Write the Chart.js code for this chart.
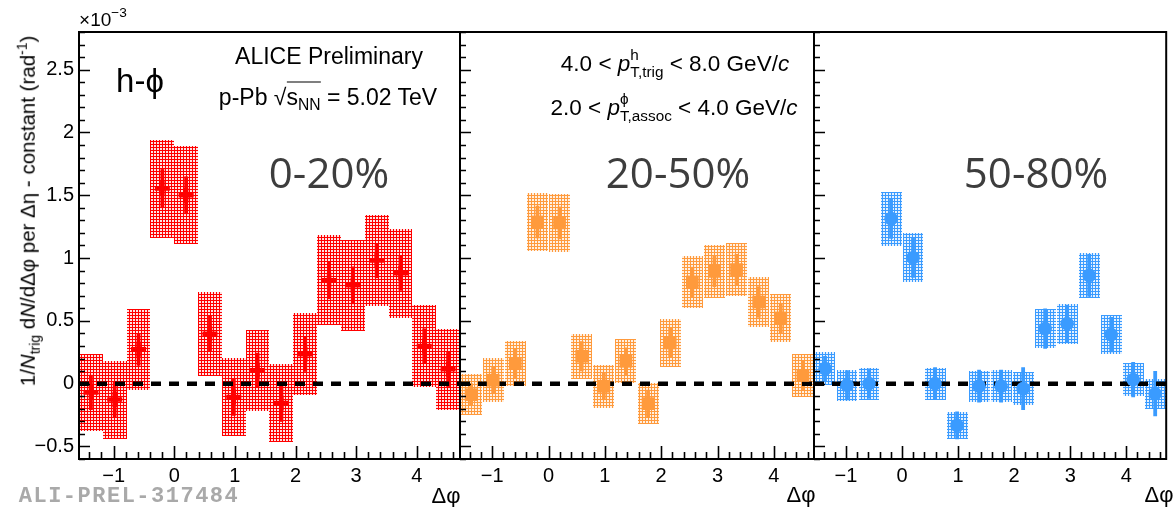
<!DOCTYPE html>
<html>
<head>
<meta charset="utf-8">
<script src="https://cdn.jsdelivr.net/npm/chart.js@4.4.1/dist/chart.umd.min.js"></script>
<style>
  html, body { margin: 0; padding: 0; background: #fff; }
  #wrap { position: relative; width: 1173px; height: 507px; overflow: hidden; font-family: "Liberation Sans", Arial, sans-serif; color: #000; }
  #wrap canvas { position: absolute; left: 0; top: 0; }
  .t { position: absolute; white-space: nowrap; transform: translate(-50%, -50%); line-height: 1; }
  .it { font-style: italic; }
  .stk { display: inline-block; vertical-align: -0.42em; font-size: 0.68em; line-height: 1.08; text-align: left; }
  .stk span { display: block; }
  .cent { font-family: "Open Sans", sans-serif; font-size: 42px; color: #3d3d3d; }
  sub, sup { font-size: 0.68em; line-height: 0; }
</style>
</head>
<body>
<div id="wrap">
  <canvas id="c0" width="1173" height="507"></canvas>
  <canvas id="c1" width="1173" height="507"></canvas>
  <canvas id="c2" width="1173" height="507"></canvas>

  <div class="t" style="left:103px; top:19px; font-size:19px;">×10<sup style="font-size:0.72em;position:relative;top:-0.15em;">−3</sup></div>
  <div class="t" style="left:28px; top:211px; font-size:20.5px; transform: translate(-50%,-50%) rotate(-90deg);">1/<span class="it">N</span><sub>trig</sub> d<span class="it">N</span>/dΔφ per Δη - constant (rad<sup>-1</sup>)</div>
  <div class="t" style="left:140px; top:80px; font-size:33px;">h-ϕ</div>
  <div class="t" style="left:329px; top:56px; font-size:23px;">ALICE Preliminary</div>
  <div class="t" style="left:328px; top:97px; font-size:23px;">p-Pb √<span style="border-top:1.5px solid #000; padding-top:1px;">s<sub>NN</sub></span> = 5.02 TeV</div>
  <div class="t" style="left:675px; top:64px; font-size:22.5px;">4.0 &lt; <span class="it">p</span><span class="stk"><span>h</span><span>T,trig</span></span> &lt; 8.0 GeV/<span class="it">c</span></div>
  <div class="t" style="left:674px; top:108px; font-size:22.5px;">2.0 &lt; <span class="it">p</span><span class="stk"><span>ϕ</span><span>T,assoc</span></span> &lt; 4.0 GeV/<span class="it">c</span></div>
  <div class="t cent" style="left:329px; top:172px;">0-20%</div>
  <div class="t cent" style="left:678px; top:172px;">20-50%</div>
  <div class="t cent" style="left:1036px; top:172px;">50-80%</div>
  <div class="t" style="left:446px; top:496px; font-size:22px;">Δφ</div>
  <div class="t" style="left:801px; top:495px; font-size:22px;">Δφ</div>
  <div class="t" style="left:1159px; top:495px; font-size:22px;">Δφ</div>
  <div class="t" style="left:129px; top:497px; font-size:22px; font-weight:bold; font-family:'Liberation Mono', monospace; color:#a9a9a9; letter-spacing:1.5px;">ALI-PREL-317484</div>
</div>

<script>
// delta-phi bin centres (16 bins from -pi/2 to 3pi/2)
const binCenters = [-1.374, -0.982, -0.589, -0.196, 0.196, 0.589, 0.982, 1.374,
                    1.767, 2.160, 2.553, 2.945, 3.338, 3.731, 4.123, 4.516];
const binWidth = 0.3927;
const xTicks = [-1, 0, 1, 2, 3, 4];
const yTicks = [-0.5, 0, 0.5, 1, 1.5, 2, 2.5];

// 0-20%
const y0020 = [-0.07, -0.127, 0.273, 1.553, 1.50, 0.398, -0.106, 0.106, -0.154, 0.234, 0.823, 0.783, 0.98, 0.88, 0.30, 0.114];
const stat0020 = [0.14, 0.14, 0.13, 0.155, 0.15, 0.145, 0.15, 0.14, 0.15, 0.14, 0.15, 0.15, 0.14, 0.14, 0.14, 0.14];
const sys0020 = [0.31, 0.31, 0.325, 0.39, 0.39, 0.335, 0.31, 0.32, 0.31, 0.325, 0.36, 0.36, 0.365, 0.355, 0.325, 0.32];

// 20-50%
const y2050 = [-0.088, 0.027, 0.16, 1.287, 1.28, 0.218, -0.021, 0.178, -0.159, 0.324, 0.81, 0.894, 0.908, 0.65, 0.523, 0.066];
const stat2050 = [0.09, 0.11, 0.12, 0.13, 0.13, 0.12, 0.11, 0.11, 0.11, 0.12, 0.12, 0.125, 0.125, 0.125, 0.12, 0.12];
const sys2050 = [0.165, 0.175, 0.18, 0.23, 0.23, 0.18, 0.17, 0.175, 0.165, 0.19, 0.21, 0.21, 0.21, 0.2, 0.19, 0.17];

// 50-80%
const y5080 = [0.12, -0.013, 0.0, 1.314, 1.003, 0.0, -0.332, -0.02, -0.02, -0.04, 0.438, 0.478, 0.862, 0.39, 0.032, -0.08];
const stat5080 = [0.10, 0.12, 0.12, 0.16, 0.16, 0.13, 0.11, 0.13, 0.13, 0.17, 0.16, 0.15, 0.17, 0.14, 0.14, 0.18];
const sys5080 = [0.13, 0.125, 0.127, 0.215, 0.195, 0.127, 0.106, 0.124, 0.125, 0.13, 0.155, 0.16, 0.18, 0.153, 0.13, 0.12];

const X_MIN = -Math.PI / 2, X_MAX = 3 * Math.PI / 2;
const Y_MIN = -0.6, Y_MAX = 2.8;

// dotted fill like ROOT's 3001 style: colour with light square holes
function hatch(color, hole) {
  const c = document.createElement('canvas');
  c.width = 3; c.height = 3;
  const g = c.getContext('2d');
  g.fillStyle = color;
  g.fillRect(0, 0, 3, 3);
  g.fillStyle = hole;
  g.fillRect(1, 1, 2, 2);
  return g.createPattern(c, 'repeat');
}

function fmt(v) {
  return v < 0 ? '\u2212' + Math.abs(v) : String(v);
}

// systematic boxes + stat bars, drawn from the data through the scales
const errors = {
  id: 'errors',
  beforeDatasetsDraw(chart, args, o) {
    const { ctx, chartArea: a, scales: { x, y } } = chart;
    ctx.save();
    ctx.beginPath();
    ctx.rect(a.left, a.top, a.right - a.left, a.bottom - a.top);
    ctx.clip();
    ctx.fillStyle = hatch(o.color, o.hole);
    o.vals.forEach((v, i) => {
      const half = binWidth * o.boxFrac / 2;
      const x0 = Math.round(x.getPixelForValue(binCenters[i] - half));
      const x1 = Math.round(x.getPixelForValue(binCenters[i] + half));
      const y0 = Math.round(y.getPixelForValue(v + o.sys[i]));
      const y1 = Math.round(y.getPixelForValue(v - o.sys[i]));
      ctx.fillRect(x0, y0, x1 - x0, y1 - y0);
    });
    ctx.strokeStyle = o.color;
    ctx.lineWidth = 3.8;
    o.vals.forEach((v, i) => {
      const px = x.getPixelForValue(binCenters[i]);
      ctx.beginPath();
      ctx.moveTo(px, y.getPixelForValue(v + o.stat[i]));
      ctx.lineTo(px, y.getPixelForValue(v - o.stat[i]));
      ctx.stroke();
    });
    ctx.restore();
  }
};

// ROOT style frame with inward ticks on left and bottom
const frame = {
  id: 'frame',
  afterDraw(chart) {
    const { ctx, chartArea: a, scales: { x, y } } = chart;
    ctx.save();
    ctx.strokeStyle = '#000';
    ctx.lineWidth = 1.6;
    ctx.beginPath();
    for (let k = -7; k <= 23; k++) {
      const v = k * 0.2;
      if (v < X_MIN || v > X_MAX) continue;
      const px = Math.round(x.getPixelForValue(v)) + 0.5;
      ctx.moveTo(px, a.bottom);
      ctx.lineTo(px, a.bottom - (k % 5 === 0 ? 13 : 7));
    }
    for (let k = -6; k <= 28; k++) {
      const py = Math.round(y.getPixelForValue(k * 0.1)) + 0.5;
      ctx.moveTo(a.left, py);
      ctx.lineTo(a.left + (k % 5 === 0 ? 11 : 6), py);
    }
    ctx.stroke();
    ctx.lineWidth = 2;
    ctx.strokeRect(a.left, a.top, a.right - a.left, a.bottom - a.top);
    ctx.restore();
  }
};

const panels = [
  { id: 'c0', vals: y0020, stat: stat0020, sys: sys0020, color: '#ff0000', hole: '#ffe4e4', style: 'cross', radius: 7.5, bw: 4.5, left: 0, right: 713, showY: true, boxFrac: 1 },
  { id: 'c1', vals: y2050, stat: stat2050, sys: sys2050, color: '#ff9a3c', hole: '#fff0e2', style: 'rect', radius: 9, bw: 0, left: 460, right: 359, showY: false, boxFrac: 0.95 },
  { id: 'c2', vals: y5080, stat: stat5080, sys: sys5080, color: '#3a9bff', hole: '#e4f1ff', style: 'circle', radius: 6.8, bw: 0, left: 814, right: 1, showY: false, boxFrac: 0.95 }
];

const tickFont = { family: '"Liberation Sans", Arial, sans-serif', size: 20 };

panels.forEach(p => {
  new Chart(document.getElementById(p.id), {
    type: 'scatter',
    data: {
      datasets: [
        {
          type: 'line',
          data: [{ x: X_MIN, y: 0 }, { x: X_MAX, y: 0 }],
          borderColor: '#000', borderWidth: 4.5, borderDash: [10, 8],
          pointRadius: 0, order: 2
        },
        {
          data: binCenters.map((x, i) => ({ x, y: p.vals[i] })),
          pointStyle: p.style, pointRadius: p.radius, borderWidth: p.bw,
          backgroundColor: p.color, borderColor: p.color, order: 1
        }
      ]
    },
    options: {
      responsive: false, animation: false, events: [],
      layout: { padding: { left: p.left, right: p.right, top: 32, bottom: 0 } },
      plugins: {
        legend: { display: false }, tooltip: { enabled: false },
        errors: { vals: p.vals, stat: p.stat, sys: p.sys, color: p.color, hole: p.hole, boxFrac: p.boxFrac }
      },
      scales: {
        x: {
          type: 'linear', min: X_MIN, max: X_MAX,
          afterBuildTicks: s => { s.ticks = xTicks.map(v => ({ value: v })); },
          afterFit: s => { s.height = 48; },
          grid: { display: false, drawTicks: false }, border: { display: false },
          ticks: { font: tickFont, color: '#000', padding: 5, maxRotation: 0, autoSkip: false, callback: v => fmt(v) }
        },
        y: {
          type: 'linear', min: Y_MIN, max: Y_MAX, display: p.showY,
          afterBuildTicks: s => { s.ticks = yTicks.map(v => ({ value: v })); },
          afterFit: s => { s.width = p.showY ? 79 : 0; },
          grid: { display: false, drawTicks: false }, border: { display: false },
          ticks: { font: tickFont, color: '#000', padding: 5, autoSkip: false, callback: v => fmt(v) }
        }
      }
    },
    plugins: [errors, frame]
  });
});
</script>
</body>
</html>
